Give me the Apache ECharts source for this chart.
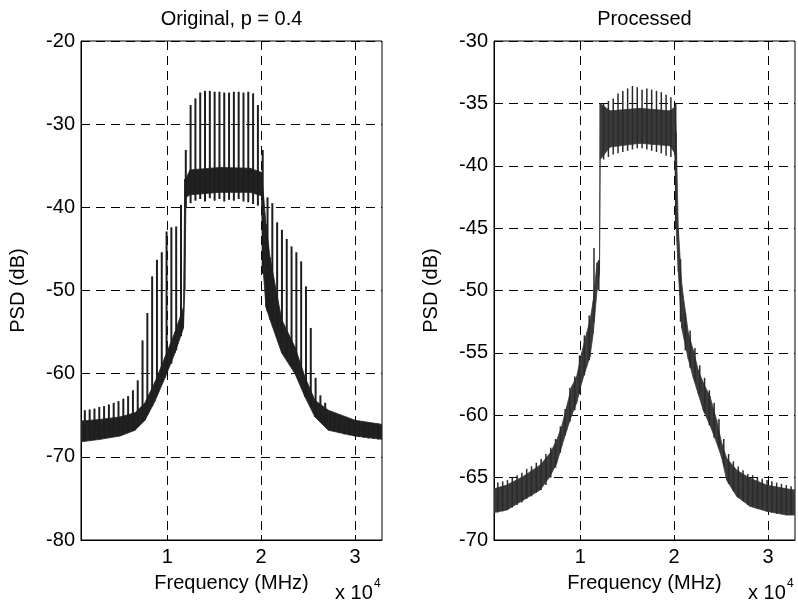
<!DOCTYPE html>
<html><head><meta charset="utf-8">
<script src="https://cdn.jsdelivr.net/npm/echarts@6/dist/echarts.min.js"></script>
<style>html,body{margin:0;padding:0;background:#fff}#c{width:798px;height:604px}</style>
</head><body><div id="c"></div>
<script>
// ---- data (frequency in the axis unit; PSD in dB) ----
const titles = ['Original, p = 0.4', 'Processed'];
const xTicks = [10000, 20000, 30000];
const xRange = [820, 32880];
const origYRange = [-80, -20];
const procYRange = [-70, -30];

// periodic spike lines (same frequency grid in both plots)
const spikeFreq = [1230,1742,2254,2766,3278,3790,4302,4814,5326,5838,
  6350,6862,7374,7886,8398,8910,9422,9934,10446,10958,
  11470,11982,12494,13006,13518,14030,14542,15054,15566,16078,
  16590,17102,17614,18126,18638,19150,19662,20174,20686,21198,
  21710,22222,22734,23246,23758,24270,24782,25294,25806,26318,
  26830,27342,27854,28366,28878,29390,29902,30414,30926,31438,
  31950,32462];

const origSpikeHigh = [-64.4,-64.3,-64.2,-64.0,-63.9,-63.7,-63.5,-63.3,-63.0,-62.7,
  -62.0,-60.8,-56.0,-52.7,-48.3,-46.3,-45.4,-42.9,-42.4,-42.3,
  -39.7,-33.1,-27.7,-26.9,-26.2,-26.0,-26.0,-26.1,-26.1,-26.2,
  -26.2,-26.1,-26.1,-26.2,-26.1,-26.3,-27.7,-33.1,-38.8,-39.5,
  -41.8,-42.7,-43.8,-44.7,-45.4,-46.5,-49.5,-54.5,-60.5,-62.6,
  -63.5,-64.5,-65.0,-65.3,-65.5,-65.6,-65.7,-65.8,-65.9,-65.9,
  -66.0,-66.0];
const origSpikeLow = [-68.1,-68.0,-67.9,-67.8,-67.7,-67.6,-67.5,-67.3,-67.2,-67.0,
  -66.8,-66.4,-65.8,-64.9,-63.9,-62.5,-61.1,-59.9,-58.8,-57.2,
  -55.5,-40.0,-39.5,-39.2,-39.0,-39.3,-38.9,-39.2,-39.0,-39.3,
  -39.1,-39.2,-39.0,-39.3,-39.4,-39.6,-39.8,-48.0,-52.5,-53.8,
  -55.0,-57.0,-58.0,-59.0,-59.8,-60.2,-62.5,-64.0,-65.2,-65.8,
  -66.3,-66.7,-66.9,-67.1,-67.3,-67.4,-67.5,-67.6,-67.7,-67.8,
  -67.8,-67.9];

// dense core band (lower / upper edge)
const origCoreFreq = [820,2844,4974,6572,7637,8702,9767,10832,11737,11876,
  12004,12430,15625,18820,20045,20258,20524,20950,22196,23613,
  24678,25743,27160,30004,32880];
const origCoreLow = [-68.2,-67.9,-67.5,-66.8,-65.6,-63.3,-60.5,-57.5,-54.5,-50.0,
  -38.8,-38.5,-38.2,-38.2,-38.6,-48.0,-52.0,-53.5,-57.5,-60.0,
  -62.8,-65.2,-66.8,-67.5,-67.9];
const origCoreHigh = [-65.7,-65.5,-65.2,-64.7,-63.5,-61.0,-58.0,-55.0,-52.0,-36.6,
  -36.5,-35.5,-35.2,-35.3,-35.8,-38.5,-42.0,-46.0,-53.5,-56.8,
  -60.4,-63.2,-64.4,-65.6,-66.1];

const procSpikeHigh = [-65.4,-65.3,-65.2,-65.0,-64.8,-64.6,-64.3,-64.1,-63.8,-63.5,
  -63.1,-62.6,-61.9,-60.9,-59.5,-57.8,-56.9,-55.2,-53.6,-52.0,
  -46.6,-47.6,-35.0,-34.8,-34.6,-34.2,-34.0,-33.8,-33.6,-33.7,
  -33.9,-33.8,-33.9,-34.0,-34.1,-34.3,-34.5,-35.0,-47.5,-51.8,
  -53.2,-54.6,-56.0,-57.0,-58.0,-59.0,-60.3,-61.9,-63.1,-63.7,
  -64.1,-64.4,-64.7,-64.8,-65.0,-65.1,-65.2,-65.3,-65.4,-65.5,
  -65.6,-65.7];
const procSpikeLow = [-67.8,-67.7,-67.6,-67.4,-67.2,-67.0,-66.7,-66.5,-66.2,-66.0,
  -65.6,-65.0,-64.2,-63.0,-61.6,-60.5,-59.6,-58.3,-56.8,-55.6,
  -52.5,-50.0,-39.5,-39.3,-39.1,-39.0,-38.9,-38.8,-38.7,-38.6,
  -38.6,-38.7,-38.8,-38.9,-39.0,-39.2,-39.3,-45.0,-52.5,-54.8,
  -56.2,-57.3,-58.4,-59.8,-60.8,-61.8,-62.6,-64.0,-65.5,-66.1,
  -66.6,-66.9,-67.2,-67.3,-67.5,-67.6,-67.7,-67.8,-67.9,-67.9,
  -68.0,-68.0];

const procCoreFreq = [820,2173,3941,5719,6785,7498,8031,8563,9096,9628,
  10161,10694,11045,11396,11791,12057,12131,13175,16370,19566,
  20077,20226,20450,20812,21515,22048,22580,23113,23826,24540,
  25073,25605,26670,28086,29865,31995,32880];
const procCoreLow = [-67.8,-67.6,-66.8,-66.0,-64.9,-63.85,-62.5,-61.2,-60.0,-59.0,
  -57.4,-56.1,-55.3,-53.4,-50.0,-48.6,-39.5,-38.5,-38.2,-38.4,
  -39.0,-45.0,-48.5,-53.0,-55.5,-57.0,-58.3,-59.6,-60.8,-62.2,
  -63.4,-65.2,-66.5,-67.3,-67.7,-68.0,-68.0];
const procCoreHigh = [-65.9,-65.6,-64.9,-64.0,-63.05,-62.0,-60.9,-59.3,-57.7,-56.9,
  -55.0,-53.4,-52.4,-50.8,-47.8,-47.5,-35.0,-35.6,-35.4,-35.6,
  -35.3,-37.4,-45.0,-49.5,-53.4,-54.8,-56.4,-57.4,-58.5,-60.4,
  -62.25,-63.45,-64.4,-65.05,-65.6,-65.9,-66.0];

// ---- chart ----
const FONT = "'Liberation Sans', Arial, Helvetica, sans-serif";
const chart = echarts.init(document.getElementById('c'), null, {renderer: 'canvas'});

const grids = [
  {left: 81, top: 41, width: 301, height: 499},
  {left: 494, top: 41, width: 301, height: 499}
];
const yRanges = [origYRange, procYRange];
const yIntervals = [10, 5];

function xAxisOpt(i) {
  return {
    type: 'value', gridIndex: i, min: xRange[0], max: xRange[1], splitNumber: 3,
    axisLine: {show: true, onZero: false, lineStyle: {color: '#000', width: 1}},
    axisTick: {show: true, inside: true, length: 5, lineStyle: {color: '#000'},
      customValues: xTicks},
    axisLabel: {show: true, margin: 7, color: '#000', fontSize: 20, fontFamily: FONT,
      customValues: xTicks,
      formatter: v => (xTicks.indexOf(v) >= 0 ? String(v / 10000) : '')},
    splitLine: {show: true, lineStyle: {color: '#000', width: 1, type: [9, 6]}}
  };
}
function yAxisOpt(i) {
  return {
    type: 'value', gridIndex: i, min: yRanges[i][0], max: yRanges[i][1], interval: yIntervals[i],
    axisLine: {show: true, onZero: false, lineStyle: {color: '#000', width: 1}},
    axisTick: {show: true, inside: true, length: 5, lineStyle: {color: '#000'}},
    axisLabel: {show: true, margin: 6, color: '#000', fontSize: 20, fontFamily: FONT},
    splitLine: {show: true, lineStyle: {color: '#000', width: 1, type: [9, 6]}}
  };
}

// core band: each data item draws the band piece between its point and the next one
function coreSeries(i, freq, low, high, color) {
  return {
    type: 'custom', xAxisIndex: i, yAxisIndex: i, clip: true, silent: true, z: 3,
    data: freq.map((f, j) => [f, low[j], high[j]]),
    encode: {x: 0, y: [1, 2]},
    renderItem: (params, api) => {
      const j = params.dataIndex;
      if (j >= freq.length - 1) return null;
      const a1 = api.coord([freq[j], low[j]]);
      const a2 = api.coord([freq[j], high[j]]);
      const b1 = api.coord([freq[j + 1], low[j + 1]]);
      const b2 = api.coord([freq[j + 1], high[j + 1]]);
      return {type: 'polygon', shape: {points: [a1, b1, b2, a2]},
        style: {fill: color, stroke: color, lineWidth: 0.8}};
    }
  };
}
function spikeSeries(i, low, high, color, w) {
  return {
    type: 'custom', xAxisIndex: i, yAxisIndex: i, clip: true, silent: true, z: 4,
    data: spikeFreq.map((f, j) => [f, low[j], high[j]]),
    encode: {x: 0, y: [1, 2]},
    renderItem: (params, api) => {
      const p1 = api.coord([api.value(0), api.value(1)]);
      const p2 = api.coord([api.value(0), api.value(2)]);
      return {type: 'line', shape: {x1: p1[0], y1: p1[1], x2: p2[0], y2: p2[1]},
        style: {stroke: color, lineWidth: w}};
    }
  };
}

const textStyle = (t, size, extra) => Object.assign({text: t, fill: '#000', fontSize: size, fontFamily: FONT}, extra || {});

const graphics = [];
grids.forEach((g, i) => {
  const cx = g.left + g.width / 2;
  graphics.push({type: 'text', x: cx, y: 9,
    style: textStyle(titles[i], 20, {align: 'center', verticalAlign: 'top', textAlign: 'center', textVerticalAlign: 'top'})});
  graphics.push({type: 'text', x: cx, y: 573,
    style: textStyle('Frequency (MHz)', 20, {align: 'center', verticalAlign: 'top', textAlign: 'center', textVerticalAlign: 'top'})});
  graphics.push({type: 'text', x: g.left - 73, y: g.top + g.height / 2, rotation: Math.PI / 2,
    style: textStyle('PSD (dB)', 20, {align: 'center', verticalAlign: 'top', textAlign: 'center', textVerticalAlign: 'top'})});
  graphics.push({type: 'text', x: g.left + g.width - 47, y: 583,
    style: textStyle('x 10', 20, {align: 'left', verticalAlign: 'top', textAlign: 'left', textVerticalAlign: 'top'})});
  graphics.push({type: 'text', x: g.left + g.width - 8, y: 578,
    style: textStyle('4', 12, {align: 'left', verticalAlign: 'top', textAlign: 'left', textVerticalAlign: 'top'})});
});

chart.setOption({
  animation: false,
  backgroundColor: '#fff',
  grid: grids.map(g => Object.assign({show: true, borderColor: '#000', borderWidth: 1, containLabel: false}, g)),
  xAxis: [xAxisOpt(0), xAxisOpt(1)],
  yAxis: [yAxisOpt(0), yAxisOpt(1)],
  series: [
    coreSeries(0, origCoreFreq, origCoreLow, origCoreHigh, '#222'),
    spikeSeries(0, origSpikeLow, origSpikeHigh, '#1e1e1e', 2),
    coreSeries(1, procCoreFreq, procCoreLow, procCoreHigh, '#3a3a3a'),
    spikeSeries(1, procSpikeLow, procSpikeHigh, '#2a2a2a', 1.5)
  ],
  graphic: graphics
});
</script></body></html>
